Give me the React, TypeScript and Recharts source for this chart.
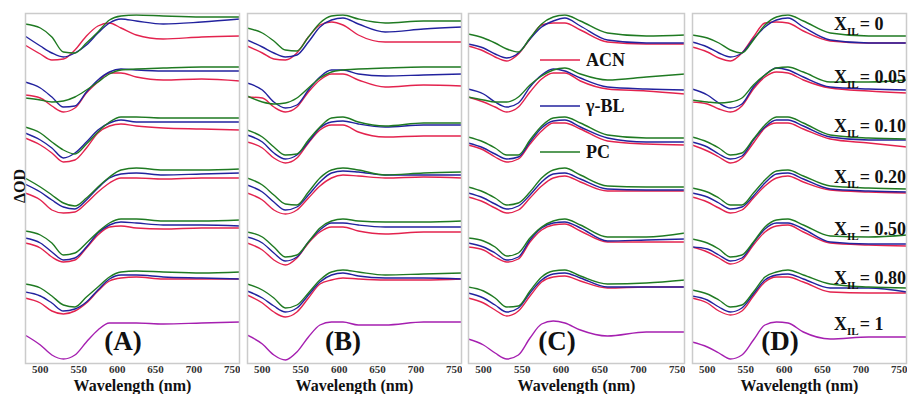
import React from 'react';
import { LineChart, Line, XAxis, YAxis } from 'recharts';

// Sampled wavelengths (nm)
const WAVELENGTHS = [480, 500, 515, 530, 545, 560, 575, 590, 605, 625, 660, 710, 760];
const TICKS = [500, 550, 600, 650, 700, 750];
const SOLVENTS = ['ACN', 'γ-BL', 'PC'];
const XIL_LABELS = ['0', '0.05', '0.10', '0.20', '0.50', '0.80', '1'];
const PANEL_LABELS = ['(A)', '(B)', '(C)', '(D)'];

// ΔOD (offset-stacked, arbitrary units) — groups top (X_IL=0) to bottom (X_IL=0.80)
const A_ACN = [
  [318, 309, 303, 304, 313, 327, 337, 340, 335, 328, 324, 326, 327],
  [268, 265, 257, 251, 255, 270, 281, 290, 290, 286, 283, 284, 282],
  [225, 218, 210, 201, 203, 215, 230, 237, 239, 237, 235, 234, 233],
  [170, 163, 153, 150, 151, 160, 171, 180, 185, 185, 184, 185, 185],
  [120, 115, 106, 101, 103, 115, 128, 136, 137, 135, 134, 135, 135],
  [65, 60, 52, 49, 52, 60, 72, 82, 85, 86, 84, 84, 84],
];
const A_BL = [
  [327, 317, 310, 306, 310, 318, 330, 340, 344, 342, 339, 341, 344],
  [281, 275, 266, 256, 257, 271, 283, 291, 294, 293, 292, 292, 292],
  [230, 223, 215, 205, 210, 221, 233, 240, 243, 241, 241, 241, 241],
  [179, 171, 163, 156, 154, 163, 175, 185, 189, 190, 188, 189, 190],
  [125, 120, 111, 103, 105, 116, 130, 138, 141, 140, 138, 138, 137],
  [71, 67, 60, 52, 54, 61, 73, 84, 88, 88, 86, 85, 84],
];
const A_PC = [
  [339, 335, 326, 311, 310, 320, 331, 343, 347, 348, 347, 346, 346],
  [265, 263, 261, 262, 266, 273, 281, 289, 293, 294, 295, 296, 296],
  [236, 230, 221, 213, 209, 219, 231, 241, 246, 246, 245, 245, 245],
  [185, 176, 168, 160, 157, 165, 176, 186, 193, 195, 193, 193, 194],
  [132, 128, 120, 108, 110, 120, 131, 140, 144, 144, 142, 142, 143],
  [79, 75, 67, 58, 56, 66, 76, 86, 91, 92, 91, 90, 91],
];
const A_IL = [28, 18, 8, 4, 8, 21, 33, 40, 40, 40, 39, 40, 41];

const B_ACN = [
  [317, 310, 304, 303, 310, 326, 338, 341, 338, 328, 321, 321, 321],
  [266, 265, 256, 251, 256, 271, 283, 289, 289, 283, 276, 278, 277],
  [221, 215, 205, 200, 205, 220, 233, 238, 238, 231, 226, 227, 227],
  [170, 163, 153, 149, 153, 165, 177, 185, 188, 187, 185, 186, 185],
  [120, 113, 103, 98, 105, 120, 131, 136, 136, 132, 129, 131, 131],
  [68, 60, 51, 46, 51, 65, 79, 83, 85, 84, 83, 83, 84],
];
const B_BL = [
  [323, 316, 310, 306, 308, 321, 336, 343, 345, 339, 331, 334, 336],
  [280, 273, 261, 255, 258, 273, 286, 293, 293, 289, 287, 288, 289],
  [228, 221, 210, 204, 208, 221, 235, 241, 242, 239, 236, 238, 238],
  [178, 171, 161, 153, 156, 168, 181, 190, 192, 191, 188, 188, 188],
  [126, 120, 110, 102, 106, 121, 133, 140, 140, 138, 136, 136, 136],
  [72, 65, 57, 51, 55, 68, 81, 88, 90, 87, 85, 85, 84],
];
const B_PC = [
  [335, 330, 322, 313, 312, 326, 340, 347, 348, 344, 340, 342, 342],
  [267, 261, 259, 260, 265, 275, 285, 291, 293, 294, 295, 296, 296],
  [233, 226, 216, 208, 209, 223, 236, 245, 246, 241, 237, 240, 240],
  [185, 178, 168, 159, 158, 171, 185, 193, 195, 193, 188, 190, 191],
  [131, 126, 116, 106, 108, 121, 135, 142, 144, 142, 141, 141, 142],
  [79, 73, 65, 55, 58, 70, 83, 91, 93, 91, 88, 89, 90],
];
const B_IL = [28, 19, 8, 3, 11, 26, 38, 41, 41, 38, 38, 41, 41];

const C_ACN = [
  [317, 312, 306, 302, 309, 324, 338, 340, 340, 333, 321, 319, 319],
  [266, 261, 256, 251, 256, 271, 284, 290, 290, 282, 274, 272, 269],
  [218, 213, 206, 201, 204, 219, 232, 240, 240, 234, 222, 219, 218],
  [166, 161, 155, 150, 153, 165, 177, 185, 187, 181, 172, 172, 172],
  [116, 113, 106, 101, 104, 121, 133, 138, 139, 132, 121, 121, 121],
  [65, 60, 53, 47, 52, 67, 81, 86, 87, 82, 75, 76, 76],
];
const C_BL = [
  [319, 315, 309, 305, 310, 324, 336, 342, 345, 337, 323, 320, 320],
  [274, 269, 261, 256, 260, 276, 288, 294, 292, 285, 276, 274, 273],
  [220, 215, 209, 204, 206, 221, 235, 242, 243, 236, 225, 221, 221],
  [170, 165, 159, 154, 157, 168, 181, 189, 190, 184, 174, 173, 173],
  [120, 116, 110, 103, 106, 123, 135, 140, 141, 135, 122, 123, 124],
  [70, 65, 58, 51, 55, 70, 83, 89, 90, 85, 76, 76, 76],
];
const C_PC = [
  [329, 325, 320, 314, 311, 325, 339, 346, 348, 342, 330, 327, 328],
  [266, 263, 261, 261, 266, 278, 287, 293, 295, 289, 283, 286, 289],
  [226, 221, 215, 208, 208, 223, 237, 245, 246, 240, 228, 225, 225],
  [176, 171, 165, 158, 160, 171, 185, 193, 195, 188, 177, 176, 176],
  [125, 122, 116, 107, 110, 125, 136, 142, 144, 138, 126, 126, 130],
  [76, 72, 65, 56, 57, 72, 86, 92, 93, 87, 79, 80, 83],
];
const C_IL = [24, 18, 10, 4, 8, 25, 39, 42, 40, 33, 27, 31, 31];

const D_ACN = [
  [316, 311, 305, 302, 310, 326, 340, 341, 340, 332, 322, 320, 320],
  [261, 259, 254, 251, 257, 274, 286, 291, 290, 283, 275, 272, 270],
  [218, 212, 206, 200, 205, 220, 235, 240, 240, 234, 224, 220, 216],
  [166, 161, 155, 150, 153, 165, 177, 185, 187, 181, 173, 171, 170],
  [116, 111, 105, 99, 103, 118, 131, 137, 138, 131, 120, 118, 117],
  [65, 60, 52, 48, 52, 67, 81, 86, 86, 81, 71, 70, 70],
];
const D_BL = [
  [321, 316, 310, 306, 310, 324, 336, 343, 345, 336, 323, 320, 320],
  [274, 268, 260, 255, 259, 276, 288, 295, 293, 286, 276, 274, 273],
  [221, 216, 209, 204, 207, 223, 236, 243, 243, 237, 226, 223, 223],
  [170, 166, 160, 154, 156, 167, 180, 189, 190, 184, 174, 172, 171],
  [116, 114, 108, 102, 105, 120, 134, 140, 140, 134, 121, 119, 119],
  [67, 63, 56, 51, 55, 69, 83, 88, 89, 84, 75, 75, 71],
];
const D_PC = [
  [328, 325, 320, 313, 310, 323, 338, 346, 348, 342, 330, 327, 327],
  [263, 261, 260, 261, 265, 278, 288, 295, 296, 291, 281, 281, 283],
  [226, 221, 215, 208, 210, 224, 238, 246, 246, 240, 228, 225, 224],
  [175, 171, 165, 158, 158, 170, 183, 192, 193, 187, 177, 175, 174],
  [124, 120, 114, 106, 108, 121, 136, 143, 144, 138, 127, 126, 128],
  [73, 69, 63, 56, 58, 71, 86, 91, 93, 88, 79, 76, 75],
];
const D_IL = [21, 16, 10, 4, 8, 23, 38, 41, 40, 31, 24, 26, 26];

// ---- layout / styling ----
const COLORS = { acn: '#e3234e', bl: '#22229e', pc: '#1f7a22', il: '#a51fb0' };
const SERIF = 'Liberation Serif, Times New Roman, DejaVu Serif, serif';
const PLOT_TOP = 14;
const PLOT_BOTTOM = 363;
const H = 394;

const PANELS = [
  { label: PANEL_LABELS[0], left: 25, width: 215, labelX: 123, acn: A_ACN, bl: A_BL, pc: A_PC, il: A_IL },
  { label: PANEL_LABELS[1], left: 247, width: 215, labelX: 343, acn: B_ACN, bl: B_BL, pc: B_PC, il: B_IL },
  { label: PANEL_LABELS[2], left: 468, width: 217, labelX: 557, acn: C_ACN, bl: C_BL, pc: C_PC, il: C_IL },
  { label: PANEL_LABELS[3], left: 692, width: 215, labelX: 780, acn: D_ACN, bl: D_BL, pc: D_PC, il: D_IL },
];

const LEGEND_Y = [60, 106, 152];
const LEGEND_COLORS = [COLORS.acn, COLORS.bl, COLORS.pc];
const XIL_BASELINE = [30, 83, 132, 183, 235, 284, 330];

function buildRows(p: typeof PANELS[number]) {
  return WAVELENGTHS.map((w, i) => {
    const row: Record<string, number> = { w, il: p.il[i] };
    for (let g = 0; g < 6; g++) {
      row[`acn${g}`] = p.acn[g][i];
      row[`bl${g}`] = p.bl[g][i];
      row[`pc${g}`] = p.pc[g][i];
    }
    return row;
  });
}

function Panel({ p }: { p: typeof PANELS[number] }) {
  const data = buildRows(p);
  const groups = [0, 1, 2, 3, 4, 5];
  return (
    <div style={{ position: 'absolute', left: p.left, top: 0, width: p.width, height: H }}>
      <LineChart width={p.width} height={H} data={data} margin={{ top: PLOT_TOP, right: 0, bottom: 0, left: 0 }}>
        <XAxis
          dataKey="w"
          type="number"
          domain={[480, 760]}
          ticks={TICKS}
          height={H - PLOT_BOTTOM}
          axisLine={false}
          tickLine={false}
          tickMargin={0}
          tickSize={2}
          tick={{ fontFamily: SERIF, fontWeight: 700, fontSize: 11, fill: '#333' }}
          interval={0}
        />
        <YAxis hide domain={[0, 349]} type="number" allowDataOverflow />
        {groups.map((g) => (
          <Line key={`acn${g}`} dataKey={`acn${g}`} type="monotone" stroke={COLORS.acn} strokeWidth={1.4} dot={false} isAnimationActive={false} />
        ))}
        {groups.map((g) => (
          <Line key={`bl${g}`} dataKey={`bl${g}`} type="monotone" stroke={COLORS.bl} strokeWidth={1.4} dot={false} isAnimationActive={false} />
        ))}
        {groups.map((g) => (
          <Line key={`pc${g}`} dataKey={`pc${g}`} type="monotone" stroke={COLORS.pc} strokeWidth={1.4} dot={false} isAnimationActive={false} />
        ))}
        <Line dataKey="il" type="monotone" stroke={COLORS.il} strokeWidth={1.4} dot={false} isAnimationActive={false} />
      </LineChart>
    </div>
  );
}

export default function App() {
  const bold = { fontFamily: SERIF, fontWeight: 700, fill: '#111' };
  return (
    <div style={{ position: 'absolute', left: 0, top: 0, width: 908, height: H, background: '#fff', overflow: 'hidden' }}>
      {PANELS.map((p) => (
        <Panel key={p.label} p={p} />
      ))}
      <svg width={908} height={H} style={{ position: 'absolute', left: 0, top: 0, pointerEvents: 'none' }}>
        {PANELS.map((p) => (
          <g key={p.label}>
            <rect x={p.left + 0.5} y={PLOT_TOP - 0.5} width={p.width - 1} height={PLOT_BOTTOM - PLOT_TOP + 1} fill="none" stroke="#cbcbcb" strokeWidth={1.5} />
            <text x={p.left + p.width / 2} y={391} textAnchor="middle" fontSize={16} {...bold}>Wavelength (nm)</text>
            <text x={p.labelX} y={350} textAnchor="middle" fontSize={27} {...bold}>{p.label}</text>
          </g>
        ))}
        <text x={19} y={186} textAnchor="middle" dominantBaseline="central" fontSize={16} transform="rotate(-90 19 186)" {...bold}>ΔOD</text>
        {SOLVENTS.map((s, i) => (
          <g key={s}>
            <line x1={540} x2={580} y1={LEGEND_Y[i]} y2={LEGEND_Y[i]} stroke={LEGEND_COLORS[i]} strokeWidth={1.5} />
            <text x={586} y={LEGEND_Y[i] + 6} fontSize={18} {...bold}>{s}</text>
          </g>
        ))}
        {XIL_LABELS.map((t, i) => (
          <text key={t} x={834} y={XIL_BASELINE[i]} fontSize={18} {...bold}>
            X<tspan fontSize={11} dy={5}>IL</tspan>
            <tspan dy={-5} dx={1}>= {t}</tspan>
          </text>
        ))}
      </svg>
    </div>
  );
}
